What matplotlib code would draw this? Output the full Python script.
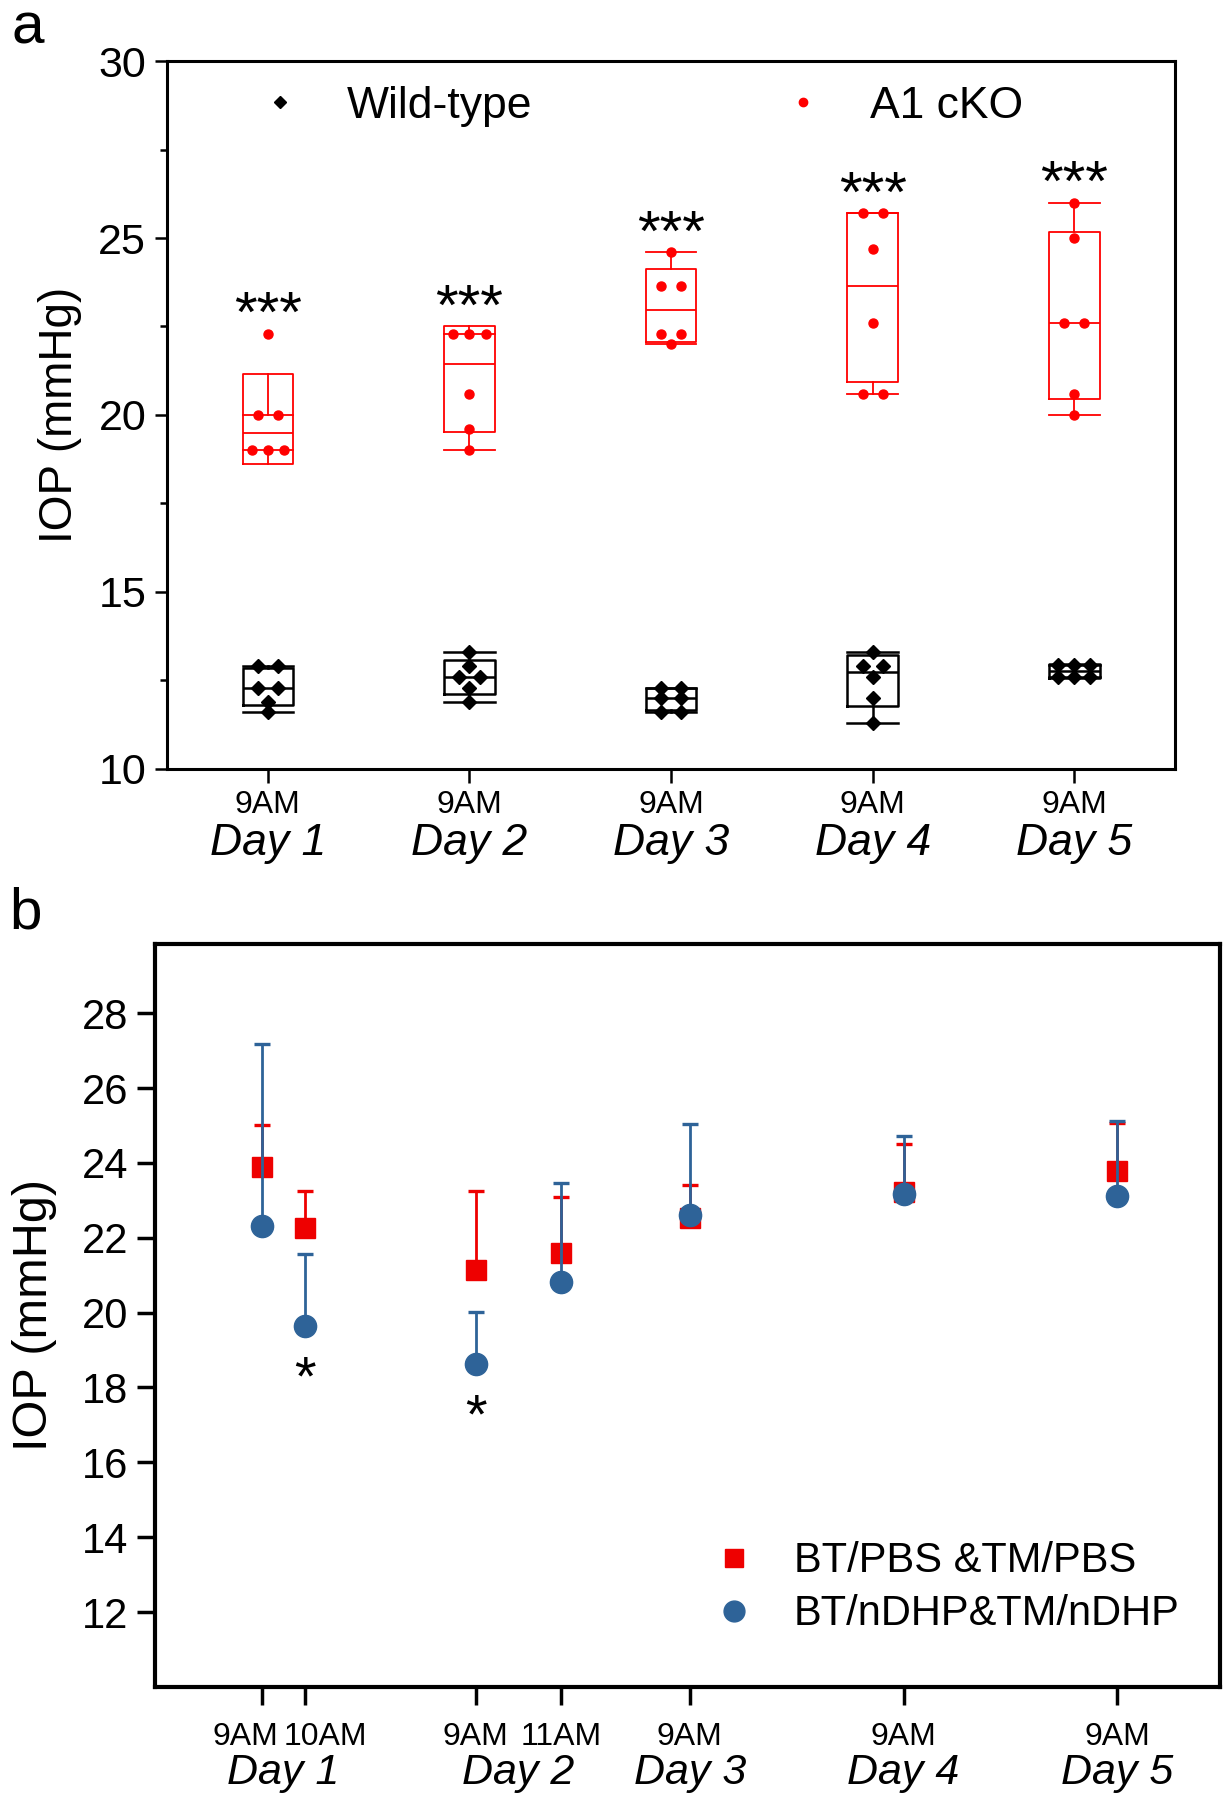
import numpy as np
import matplotlib
matplotlib.use('Agg')
from matplotlib import pyplot as plt
from matplotlib.lines import Line2D

plt.rcParams['font.family'] = ['Liberation Sans', 'DejaVu Sans']

# ---- panel a: single-eye IOP readings (mmHg), 9AM each day ----
days_a = ['Day 1', 'Day 2', 'Day 3', 'Day 4', 'Day 5']
time_a = ['9AM', '9AM', '9AM', '9AM', '9AM']
wt_iop = [
    [12.9, 12.9, 12.3, 12.3, 11.9, 11.6],
    [13.3, 12.9, 12.6, 12.6, 12.3, 11.9],
    [12.3, 12.3, 12.0, 12.0, 11.6, 11.6],
    [13.3, 12.9, 12.9, 12.6, 12.0, 11.3],
    [12.95, 12.95, 12.95, 12.6, 12.6, 12.6],
]
cko_iop = [
    [22.3, 20.0, 20.0, 19.0, 19.0, 19.0],
    [22.3, 22.3, 22.3, 20.6, 19.0, 19.6],
    [24.6, 23.65, 23.65, 22.3, 22.3, 22.0],
    [25.7, 25.7, 24.7, 22.6, 20.6, 20.6],
    [26.0, 25.0, 22.6, 22.6, 20.0, 20.6],
]

# ---- panel b: mean IOP with upper SD bars ----
time_b = ['9AM', '10AM', '9AM', '11AM', '9AM', '9AM', '9AM']
x_b = [0, 0.2, 1, 1.4, 2, 3, 4]
day_b = ['Day 1', 'Day 1', 'Day 2', 'Day 2', 'Day 3', 'Day 4', 'Day 5']
pbs_mean = [23.9, 22.25, 21.13, 21.58, 22.52, 23.22, 23.78]
pbs_sd = [1.1, 0.99, 2.11, 1.5, 0.9, 1.28, 1.29]
ndhp_mean = [22.31, 19.64, 18.62, 20.81, 22.62, 23.16, 23.12]
ndhp_sd = [4.86, 1.92, 1.39, 2.64, 2.41, 1.56, 2.0]
sig_b = [False, True, True, False, False, False, False]

RED = '#ff0000'
RED_B = '#ee0000'
BLUE = '#2e6398'


def box_stats(vals):
    # box = mean +/- SD, line = median, whiskers = 1.5 IQR
    v = np.asarray(vals, float)
    m, sd = v.mean(), v.std(ddof=1)
    q1, q3 = np.percentile(v, [25, 75])
    iqr = q3 - q1
    lo = v[v >= q1 - 1.5 * iqr].min()
    hi = v[v <= q3 + 1.5 * iqr].max()
    return dict(med=np.median(v), q1=m - sd, q3=m + sd,
                whislo=lo, whishi=hi, fliers=[])


def spread(vals):
    # side by side offsets for repeated readings
    v = np.round(np.asarray(vals, float), 2)
    off = np.zeros(len(v))
    for u in np.unique(v):
        idx = np.where(v == u)[0]
        n = len(idx)
        if n > 1:
            off[idx] = np.linspace(-1, 1, n) * (0.05 if n == 2 else 0.08)
    return off


fig = plt.figure(figsize=(12.31, 18), dpi=100)

# ================= panel a =================
ax = fig.add_axes([0.1357, 0.5728, 0.8189, 0.3933])
pos = np.arange(1, 6)
for data, col, lw, mk, ms in [(cko_iop, RED, 1.3, 'o', 6.5),
                              (wt_iop, 'black', 1.8, 'D', 6.8)]:
    props = dict(color=col, lw=lw)
    ax.bxp([box_stats(d) for d in data], positions=pos, widths=0.25,
           capwidths=0.25, showfliers=False, manage_ticks=False,
           boxprops=props, whiskerprops=props, capprops=props,
           medianprops=props)
    for p, d in zip(pos, data):
        ax.plot(p + spread(d), d, ls='none', marker=mk, ms=ms, color=col,
                zorder=3)

for p, d in zip(pos, cko_iop):
    s = box_stats(d)
    top = max(max(d), s['q3'])
    ax.annotate('***', xy=(p, top), xytext=(0, 1), textcoords='offset points',
                ha='center', va='baseline', fontsize=42)

ax.set_xlim(0.5, 5.5)
ax.set_ylim(10, 30)
ax.set_yticks(range(10, 31, 5))
ax.set_yticks([12.5, 17.5, 22.5, 27.5], minor=True)
ax.set_xticks(pos, time_a)
ax.tick_params(axis='x', length=10, width=1.8, pad=5, labelsize=23)
ax.tick_params(axis='y', which='major', length=9, width=1.8, pad=6,
               labelsize=31)
ax.tick_params(axis='y', which='minor', length=5, width=1.8)
for p, d in zip(pos, days_a):
    ax.annotate(d, xy=(p, 0), xycoords=('data', 'axes fraction'),
                xytext=(0, -62), textcoords='offset points', ha='center',
                va='baseline', fontsize=32, style='italic')
for sp in ax.spines.values():
    sp.set_linewidth(2.2)
ax.set_ylabel('IOP (mmHg)', fontsize=33, va='center')
ax.yaxis.set_label_coords(-0.106, 0.5)

hand_a = [Line2D([], [], ls='none', marker='D', ms=6, color='black'),
          Line2D([], [], ls='none', marker='o', ms=6, color=RED)]
ax.legend(hand_a, ['Wild-type', 'A1 cKO'], ncol=2, frameon=False,
          fontsize=32, loc='upper left', bbox_to_anchor=(0.09, 0.965),
          borderpad=0, borderaxespad=0, handlelength=1.0,
          handletextpad=1.0, columnspacing=5.6)

# ================= panel b =================
bx = fig.add_axes([0.1259, 0.0628, 0.8652, 0.4128])
zero = np.zeros(len(x_b))
bx.errorbar(x_b, pbs_mean, yerr=[zero, pbs_sd], fmt='s', ms=14,
            color=RED_B, ecolor=RED_B, elinewidth=2, capsize=6,
            capthick=2.4, zorder=3)
bx.errorbar(x_b, ndhp_mean, yerr=[zero, ndhp_sd], fmt='o', ms=16,
            color=BLUE, ecolor=BLUE, elinewidth=2, capsize=6,
            capthick=2.4, zorder=4)
for x, m, s in zip(x_b, ndhp_mean, sig_b):
    if s:
        bx.annotate('*', xy=(x, m), xytext=(0, -49), textcoords='offset points',
                    ha='center', va='baseline', fontsize=40)

bx.set_xlim(-0.5, 4.48)
bx.set_ylim(10, 29.85)
bx.set_yticks(range(12, 29, 2))
bx.set_xticks(x_b, [''] * len(x_b))
bx.tick_params(axis='x', length=13, width=2.5)
bx.tick_params(axis='y', length=13, width=2.5, pad=6, labelsize=30)

# time labels (the crowded Day 1 pair is nudged apart)
nudge = [-12, 15, 0, 0, 0, 0, 0]
for x, t, dx in zip(x_b, time_b, nudge):
    bx.annotate(t, xy=(x, 0), xycoords=('data', 'axes fraction'),
                xytext=(dx, -25), textcoords='offset points', ha='center',
                va='top', fontsize=23)
for d in dict.fromkeys(day_b):
    xs = [x for x, dd in zip(x_b, day_b) if dd == d]
    bx.annotate(d, xy=(np.mean(xs), 0), xycoords=('data', 'axes fraction'),
                xytext=(0, -70), textcoords='offset points', ha='center',
                va='baseline', fontsize=31, style='italic')
for sp in bx.spines.values():
    sp.set_linewidth(3)
bx.set_ylabel('IOP (mmHg)', fontsize=35, va='center')
bx.yaxis.set_label_coords(-0.113, 0.5)

hand_b = [Line2D([], [], ls='none', marker='s', ms=13, color=RED_B),
          Line2D([], [], ls='none', marker='o', ms=15, color=BLUE)]
bx.legend(hand_b, ['BT/PBS &TM/PBS', 'BT/nDHP&TM/nDHP'], frameon=False,
          fontsize=30, loc='lower left', bbox_to_anchor=(0.524, 0.071),
          borderpad=0, borderaxespad=0, handlelength=1.0,
          handletextpad=0.94, labelspacing=0.31)

fig.text(0.0097, 1 - 43 / 1800, 'a', fontsize=42, va='baseline')
fig.text(0.0073, 1 - 929 / 1800, 'b', fontsize=42, va='baseline')

fig.savefig('out.png', dpi=100)
